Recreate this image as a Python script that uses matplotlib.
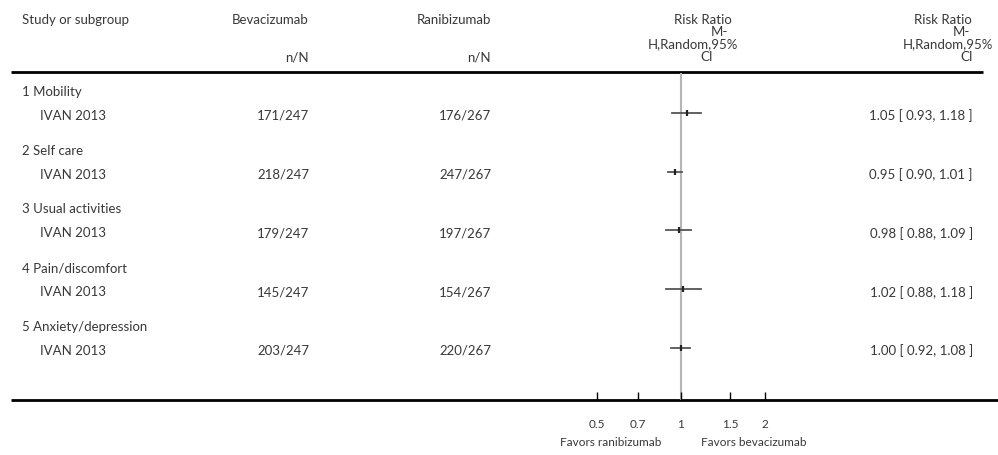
import numpy as np
import matplotlib.pyplot as plt

# forest plot data
groups = ['1 Mobility', '2 Self care', '3 Usual activities', '4 Pain/discomfort', '5 Anxiety/depression']
study = 'IVAN 2013'
bev = ['171/247', '218/247', '179/247', '145/247', '203/247']
ran = ['176/267', '247/267', '197/267', '154/267', '220/267']
rr = [1.05, 0.95, 0.98, 1.02, 1.00]
lo = [0.93, 0.90, 0.88, 0.88, 0.92]
hi = [1.18, 1.01, 1.09, 1.18, 1.08]
ticks = [0.5, 0.7, 1, 1.5, 2]
tick_labels = ['0.5', '0.7', '1', '1.5', '2']

plt.rcParams['font.family'] = ['Lato', 'DejaVu Sans']
txt = '#383838'
fs = 9.5

W, H = 998, 456
fig = plt.figure(figsize=(W / 100, H / 100), dpi=100)
ax = fig.add_axes([0, 0, 1, 1])
ax.set_xlim(0, W)
ax.set_ylim(H, 0)
ax.axis('off')

# header
ax.text(22, 20, 'Study or subgroup', ha='left', va='center', fontsize=fs, color=txt)
ax.text(309, 20, 'Bevacizumab', ha='right', va='center', fontsize=fs, color=txt)
ax.text(309, 57, 'n/N', ha='right', va='center', fontsize=fs, color=txt)
ax.text(491, 20, 'Ranibizumab', ha='right', va='center', fontsize=fs, color=txt)
ax.text(491, 57, 'n/N', ha='right', va='center', fontsize=fs, color=txt)
for s, xc, yc in [('Risk Ratio', 703, 20), ('M-', 719, 32.5), ('H,Random,95%', 693, 44.5), ('CI', 707, 57)]:
    ax.text(xc, yc, s, ha='center', va='center', fontsize=fs, color=txt)
for s, xr, yc in [('Risk Ratio', 972, 20), ('M-', 970, 32.5), ('H,Random,95%', 993, 44.5), ('CI', 973, 57)]:
    ax.text(xr, yc, s, ha='right', va='center', fontsize=fs, color=txt)

# rules
ax.plot([11, 983], [73, 73], color='black', lw=2, solid_capstyle='butt')
ax.plot([11, 998], [401, 401], color='black', lw=2, solid_capstyle='butt')

# rows
ys = []
for i, g in enumerate(groups):
    yh = 92 + 58.7 * i
    ys_ = yh + 24
    ys.append(ys_ - 2)
    ax.text(22, yh, g, ha='left', va='center', fontsize=fs, color=txt)
    ax.text(40, ys_, study, ha='left', va='center', fontsize=fs, color=txt)
    ax.text(309, ys_, bev[i], ha='right', va='center', fontsize=fs, color=txt)
    ax.text(491, ys_, ran[i], ha='right', va='center', fontsize=fs, color=txt)
    ax.text(973, ys_, f'{rr[i]:.2f} [ {lo[i]:.2f}, {hi[i]:.2f} ]',
            ha='right', va='center', fontsize=fs, color=txt)

ax.text(611, 443, 'Favors ranibizumab', ha='center', va='center', fontsize=8.5, color=txt)
ax.text(754, 443, 'Favors bevacizumab', ha='center', va='center', fontsize=8.5, color=txt)

# forest panel (log scale)
x0, x1 = 597, 765
y0, y1 = 74, 401
fax = fig.add_axes([x0 / W, (H - y1) / H, (x1 - x0) / W, (y1 - y0) / H])
fax.set_xscale('log')
fax.set_xlim(0.5, 2)
fax.set_ylim(y1, y0)
fax.patch.set_alpha(0)
for sp in fax.spines.values():
    sp.set_visible(False)
fax.axvline(1, color='#b5b5b5', lw=1.5, zorder=1)
for i in range(len(rr)):
    fax.plot([lo[i], hi[i]], [ys[i], ys[i]], color='#555555', lw=1.3, zorder=2)
    fax.plot(rr[i], ys[i], marker='|', ms=4.5, mew=1.6, color='#222222', zorder=3)
fax.set_yticks([])
fax.set_xticks(ticks)
fax.set_xticklabels(tick_labels)
fax.minorticks_off()
fax.tick_params(axis='x', direction='in', length=6, width=1, color='black',
                labelsize=8.5, labelcolor=txt, pad=13)
fax.set_xlim(0.5, 2)

fig.savefig('out.png', dpi=100)
